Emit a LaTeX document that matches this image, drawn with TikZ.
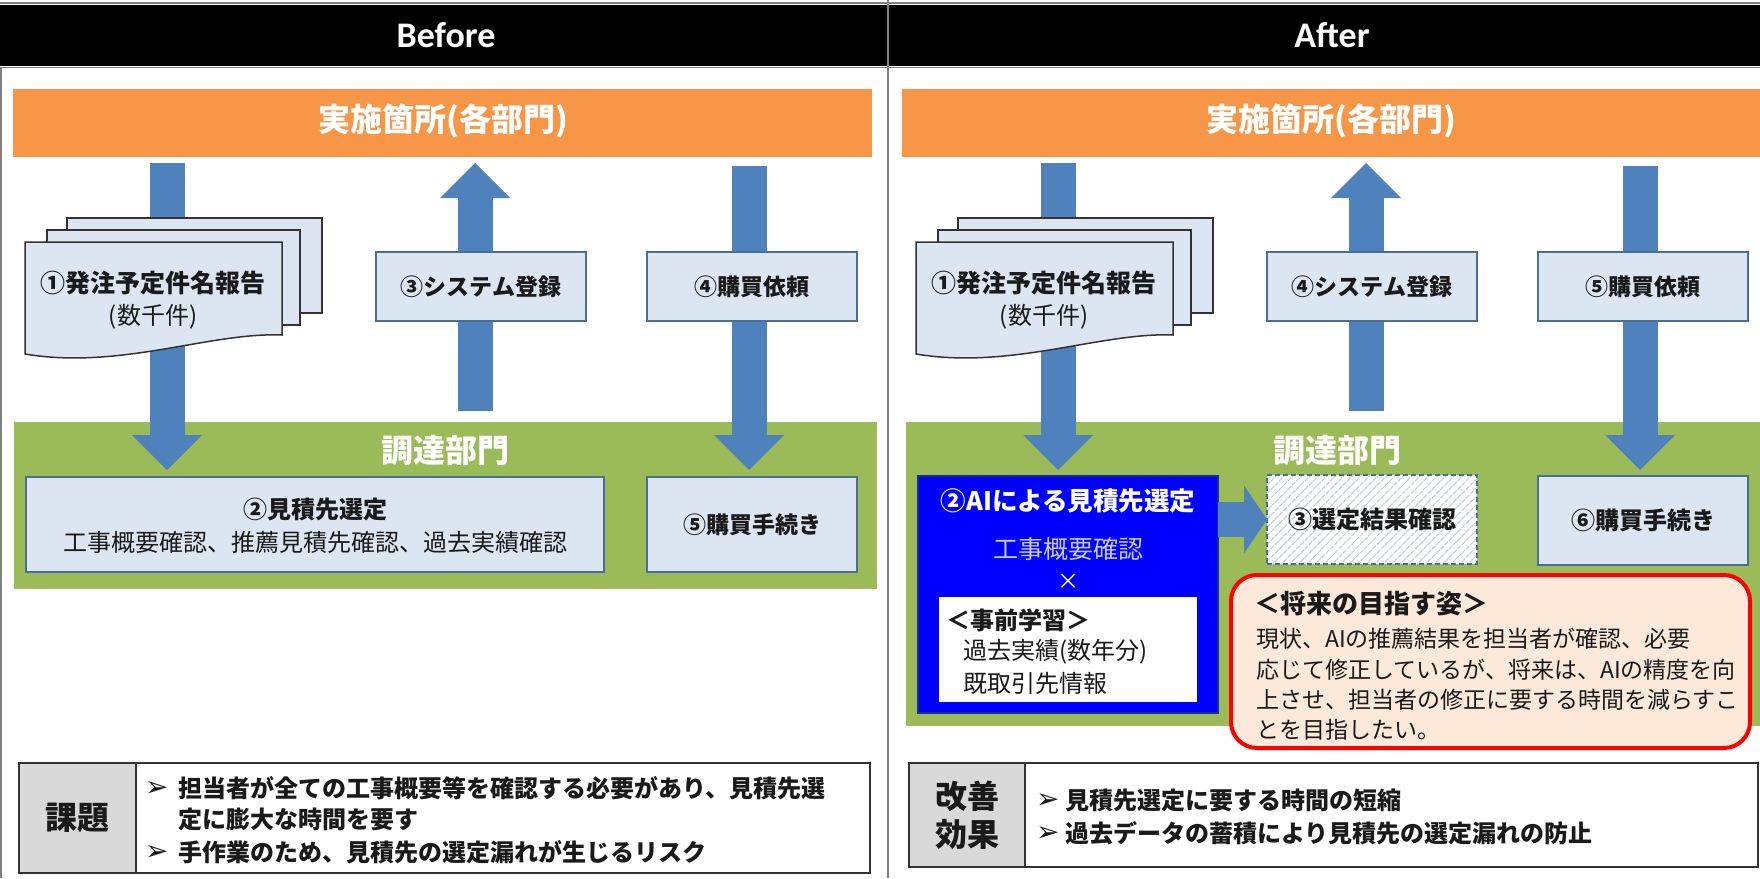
\documentclass[tikz,border=0pt]{standalone}
\usepackage{fontspec}
\setmainfont{Noto Sans CJK JP}
\newfontfamily\carlito{Carlito}
\newfontfamily\dejavu{DejaVu Sans}
\usetikzlibrary{arrows.meta,patterns.meta}
\definecolor{boxfill}{HTML}{DCE6F2}
\definecolor{boxdraw}{HTML}{4A6E9A}
\definecolor{arrowblue}{HTML}{4F81BD}
\definecolor{orangebar}{HTML}{F79646}
\definecolor{greenbar}{HTML}{9BBB59}
\definecolor{labelgray}{HTML}{D9D9D9}
\definecolor{peach}{HTML}{FDE9D9}
\definecolor{aiblue}{HTML}{0000FF}
\definecolor{aiborder}{HTML}{1A2F8A}
\definecolor{ailav}{HTML}{C8CCFF}
\definecolor{hatchc}{HTML}{B8CCE4}
\definecolor{txt}{HTML}{1A1A1A}
\definecolor{docdraw}{HTML}{333333}
\definecolor{framegray}{HTML}{808080}
\newcommand{\fsz}[1]{\fontsize{#1pt}{#1pt}\selectfont}
\tikzset{
  tbox/.style={fill=boxfill, draw=boxdraw, line width=1.2pt, inner sep=0pt, outer sep=0pt, text=txt, font=\bfseries\fsz{23}},
  blk/.style={draw=arrowblue, line width=35pt, -{Triangle[width=70pt,length=35pt,line width=0pt]}},
  blkr/.style={draw=arrowblue, line width=35pt, -{Triangle[width=68pt,length=23pt,line width=0pt]}},
  docpage/.style={fill=boxfill, draw=docdraw, line width=1.5pt},
  bar/.style={inner sep=0pt, outer sep=0pt},
  wlabel/.style={text=white, font=\bfseries\fsz{32}},
  lt/.style={anchor=west, inner sep=0pt, text=txt},
  bul/.style={anchor=west, inner sep=0pt, text=txt, font=\dejavu\fsz{28}},
  labcell/.style={fill=labelgray, draw=docdraw, line width=1.5pt, inner sep=0pt, text=txt, font=\bfseries\fsz{32}},
  outbox/.style={draw=docdraw, line width=1.8pt, fill=white, inner sep=0pt}
}
\begin{document}
\begin{tikzpicture}[x=1pt,y=-1pt]
\useasboundingbox (0,0) rectangle (1760,878);
\fill[white] (0,0) rectangle (1760,878);
% header
\fill[black] (0,5) rectangle (1760,66);
\draw[framegray, line width=1.5pt] (0,3) -- (1760,3);
\draw[framegray, line width=1.5pt] (0,67.5) -- (1760,67.5);
\draw[framegray, line width=2.5pt] (888,0) -- (888,878);
\draw[framegray, line width=1.5pt] (1,67) -- (1,878);
\node[text=white, font=\carlito\bfseries\fsz{36}] (hb) at (446,35) {Before};
\node[text=white, font=\carlito\bfseries\fsz{36}] (ha) at (1332,35) {After};

% orange bars
\node[bar, fill=orangebar, minimum width=859pt, minimum height=68pt] (ob) at (442.5,123) {};
\node[wlabel] (obt) at (443,121) {実施箇所(各部門)};
\node[bar, fill=orangebar, minimum width=858pt, minimum height=68pt] (oa) at (1331,123) {};
\node[wlabel] (oat) at (1331,121) {実施箇所(各部門)};

% green bands
\node[bar, fill=greenbar, minimum width=863pt, minimum height=167pt] (gb) at (445.5,505.5) {};
\node[bar, fill=greenbar, minimum width=854pt, minimum height=304pt] (ga) at (1333,574) {};
\node[wlabel] (gbt) at (445,450) {調達部門};
\node[wlabel] (gat) at (1337,450) {調達部門};

% arrows (before)
\coordinate (b1s) at (167,163); \coordinate (b1e) at (167,470);
\coordinate (b3s) at (475,411); \coordinate (b3e) at (475,163);
\coordinate (b4s) at (749,166); \coordinate (b4e) at (749,470);
\draw[blk] (b1s) -- (b1e);
\draw[blk] (b3s) -- (b3e);
\draw[blk] (b4s) -- (b4e);
% arrows (after)
\coordinate (a1s) at (1058,163); \coordinate (a1e) at (1058,470);
\coordinate (a4s) at (1366,411); \coordinate (a4e) at (1366,163);
\coordinate (a5s) at (1640,166); \coordinate (a5e) at (1640,470);
\draw[blk] (a1s) -- (a1e);
\draw[blk] (a4s) -- (a4e);
\draw[blk] (a5s) -- (a5e);

% document stacks (before)
\draw[docpage] (67,218) rectangle (322,313);
\draw[docpage] (47,230) rectangle (300,325);
\draw[docpage] (25,242) -- (282,242) -- (282,335) .. controls (210,332) and (120,370) .. (25,354) -- cycle;
\node[text=txt, font=\bfseries\fsz{25}] (d1b) at (153,283) {①発注予定件名報告};
\node[text=txt, font=\fsz{24}] (d1bs) at (153,317) {(数千件)};
% document stacks (after)
\draw[docpage] (958,218) rectangle (1213,313);
\draw[docpage] (938,230) rectangle (1191,325);
\draw[docpage] (916,242) -- (1173,242) -- (1173,335) .. controls (1101,332) and (1011,370) .. (916,354) -- cycle;
\node[text=txt, font=\bfseries\fsz{25}] (d1a) at (1044,283) {①発注予定件名報告};
\node[text=txt, font=\fsz{24}] (d1as) at (1044,317) {(数千件)};

% boxes before
\node[tbox, minimum width=210pt, minimum height=69pt] (b3) at (481,286.5) {③システム登録};
\node[tbox, minimum width=210pt, minimum height=69pt] (b4) at (752,286.5) {④購買依頼};
\node[tbox, minimum width=578pt, minimum height=95pt] (b2) at (315,524.5) {};
\node[text=txt, font=\bfseries\fsz{24}] (b2t) at (315,509) {②見積先選定};
\node[text=txt, font=\fsz{24}] (b2s) at (315,542) {工事概要確認、推薦見積先確認、過去実績確認};
\node[tbox, minimum width=210pt, minimum height=95pt] (b5) at (752,524.5) {⑤購買手続き};

% boxes after
\node[tbox, minimum width=210pt, minimum height=69pt] (a4) at (1372,286.5) {④システム登録};
\node[tbox, minimum width=210pt, minimum height=69pt] (a5) at (1643,286.5) {⑤購買依頼};

% AI box
\node[bar, fill=aiblue, draw=aiborder, line width=1.5pt, minimum width=300pt, minimum height=237pt] (ai) at (1068,594.5) {};
\node[text=white, font=\bfseries\fsz{25.5}] (ait) at (1068,501) {②AIによる見積先選定};
\node[text=ailav, font=\fsz{25}] (ais) at (1068,549) {工事概要確認};
\node[text=white, font=\fsz{22}] (aix) at (1068,582) {×};
\node[bar, fill=white, minimum width=258pt, minimum height=105pt] (pre) at (1068,649.5) {};
\node[lt, font=\bfseries\fsz{24}] (pret) at (946,620) {＜事前学習＞};
\node[lt, font=\fsz{24}] (pre1) at (963,652) {過去実績(数年分)};
\node[lt, font=\fsz{24}] (pre2) at (963,683) {既取引先情報};

% selection result box (hatched, dashed)
\node[tbox, draw=boxdraw, dash pattern=on 5pt off 3pt, preaction={fill=white}, fill=none,
      pattern={Lines[angle=45,distance=6pt,line width=1pt]}, pattern color=hatchc,
      minimum width=210pt, minimum height=89pt, font=\bfseries\fsz{24}] (a3) at (1372,519.5) {③選定結果確認};
\node[tbox, minimum width=210pt, minimum height=89pt, font=\bfseries\fsz{24}] (a6) at (1643,520.5) {⑥購買手続き};

% arrow AI -> result
\draw[blkr] (ai.east |- a3.west) -- (a3.west);

% future box
\node[bar, fill=peach, draw=red, line width=4pt, rounded corners=26pt, minimum width=519pt, minimum height=173pt] (fut) at (1490.5,661.5) {};
\node[lt, font=\bfseries\fsz{26}] (futt) at (1254,604) {＜将来の目指す姿＞};
\node[lt, font=\fsz{23}] (fut1) at (1256,639) {現状、AIの推薦結果を担当者が確認、必要};
\node[lt, font=\fsz{23}] (fut2) at (1256,669.5) {応じて修正しているが、将来は、AIの精度を向};
\node[lt, font=\fsz{23}] (fut3) at (1256,700) {上させ、担当者の修正に要する時間を減らすこ};
\node[lt, font=\fsz{23}] (fut4) at (1256,730) {とを目指したい。};

% bottom box before
\node[outbox, minimum width=851pt, minimum height=110pt] (kb) at (444.5,818) {};
\node[labcell, minimum width=117pt, minimum height=110pt] (kbl) at (77.5,818) {課題};
\node[bul] (kb1) at (145,789) {➢};
\node[lt, font=\bfseries\fsz{24}] (kt1) at (178,788) {担当者が全ての工事概要等を確認する必要があり、見積先選};
\node[lt, font=\bfseries\fsz{24}] (kt2) at (178,819) {定に膨大な時間を要す};
\node[bul] (kb2) at (145,853) {➢};
\node[lt, font=\bfseries\fsz{24}] (kt3) at (178,852) {手作業のため、見積先の選定漏れが生じるリスク};

% bottom box after
\node[outbox, minimum width=849pt, minimum height=104pt] (ka) at (1333.5,815) {};
\node[labcell, minimum width=116pt, minimum height=104pt, align=center] (kal) at (967,815) {改善\\[6pt]効果};
\node[bul] (ka1) at (1036,801) {➢};
\node[lt, font=\bfseries\fsz{24}] (ke1) at (1065,800) {見積先選定に要する時間の短縮};
\node[bul] (ka2) at (1036,834) {➢};
\node[lt, font=\bfseries\fsz{24}] (ke2) at (1065,833) {過去データの蓄積により見積先の選定漏れの防止};
\end{tikzpicture}
\end{document}
